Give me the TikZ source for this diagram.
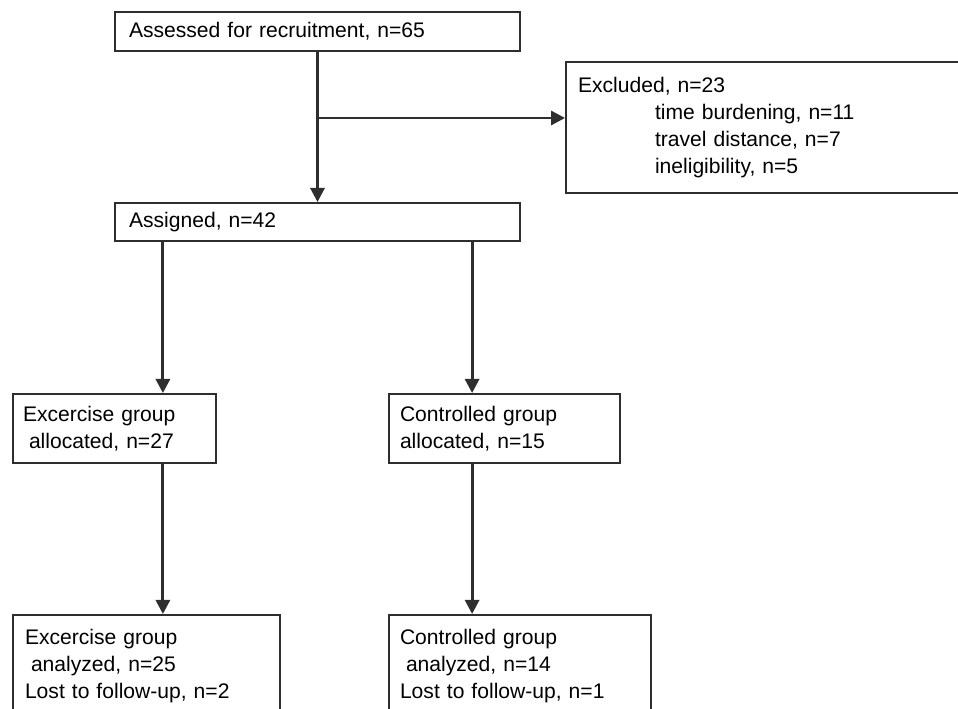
\documentclass[tikz,border=0pt]{standalone}
\usepackage{fontspec}
\setmainfont{Liberation Sans}
\usetikzlibrary{calc,arrows.meta}
\definecolor{linegray}{HTML}{2E2E2E}

\begin{document}
\begin{tikzpicture}[x=0.02cm,y=-0.02cm,
		box/.style={draw=linegray,line width=1.1pt,align=left,inner ysep=0pt,font=\fontsize{12}{15.3}\selectfont},
		conn/.style={draw=linegray,line width=1.6pt,-{Triangle[length=8pt,width=8pt]}}]
		\useasboundingbox (0,0) rectangle (958,709);
		\clip (0,0) rectangle (958,709);
		\node[box,text width=7.54cm,inner xsep=0.28cm,minimum height=0.78cm] (rec) at (317.5,31.5) {Assessed for recruitment, n=65}; %recruitment
		\node[box,text width=7.54cm,inner xsep=0.28cm,minimum height=0.76cm] (asg) at (317.5,222) {Assigned, n=42}; %assigned
		\node[box,text width=7.4cm,inner xsep=0.24cm,minimum height=2.62cm] (excl) at (763,127.5) {Excluded, n=23\\
			\hspace*{1.54cm}time burdening, n=11\\
			\hspace*{1.54cm}travel distance, n=7\\
			\hspace*{1.54cm}ineligibility, n=5}; %excluded
		\node[box,text width=3.66cm,inner xsep=0.2cm,minimum height=1.38cm] (exal) at (114.5,428.5) {Excercise group\\\hspace*{0.12cm}allocated, n=27};
		\node[box,text width=4.18cm,inner xsep=0.22cm,minimum height=1.38cm] (coal) at (504.5,428.5) {Controlled group\\allocated, n=15};
		\node[box,anchor=north,text width=4.86cm,inner xsep=0.24cm,inner ysep=0.28cm,text depth=2cm] (exan) at (146.5,614) {Excercise group\\\hspace*{0.12cm}analyzed, n=25\\Lost to follow-up, n=2};
		\node[box,anchor=north,text width=4.8cm,inner xsep=0.22cm,inner ysep=0.28cm,text depth=2cm] (coan) at (520,614) {Controlled group\\\hspace*{0.12cm}analyzed, n=14\\Lost to follow-up, n=1};
		\draw[conn] (rec) -- (asg);
		\coordinate (split) at ($(rec.south)!0.44!(asg.north)$); %branch
		\draw[conn] (split) -- (split -| excl.west);
		\coordinate (lft) at ($(asg.south west)!0.12!(asg.south east)$);
		\coordinate (rgt) at ($(asg.south west)!0.88!(asg.south east)$);
		\draw[conn] (lft) -- (lft |- exal.north);
		\draw[conn] (rgt) -- (rgt |- coal.north);
		\draw[conn] (lft |- exal.south) -- (lft |- exan.north);
		\draw[conn] (rgt |- coal.south) -- (rgt |- coan.north);
	\end{tikzpicture}
\end{document}
